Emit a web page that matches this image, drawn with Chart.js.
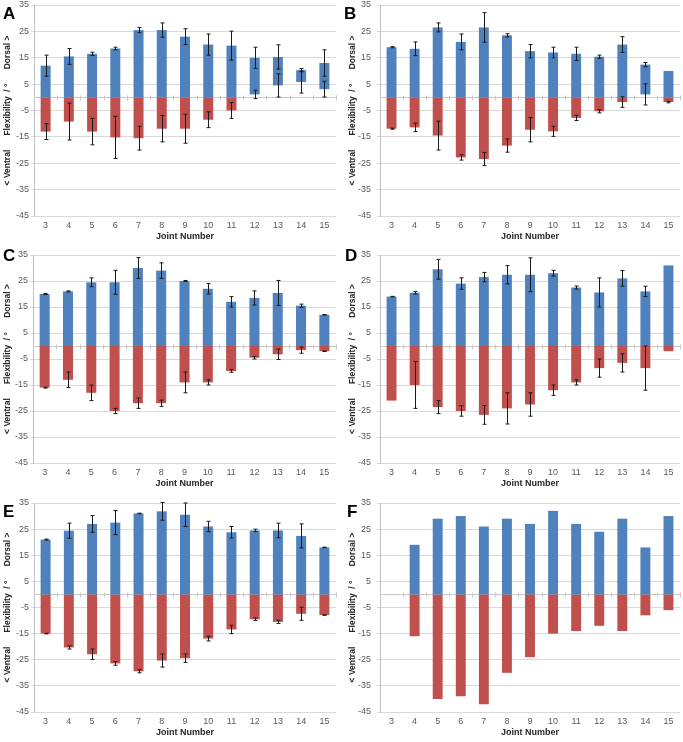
<!DOCTYPE html>
<html>
<head>
<meta charset="utf-8">
<script src="https://cdn.jsdelivr.net/npm/chart.js@4.4.1/dist/chart.umd.min.js"></script>
<style>
body { margin: 0; background: #fff; }
#page { position: relative; width: 683px; height: 742px; overflow: hidden; background: #fff; }
#page canvas { position: absolute; }
.tag { position: absolute; font: bold 17px "Liberation Sans", Arial, sans-serif; line-height: 17px; color: #000; }
</style>
</head>
<body>
<div id="page"></div>
<script>
'use strict';

var joints = ['3', '4', '5', '6', '7', '8', '9', '10', '11', '12', '13', '14', '15'];

// A
var dorsalA = [12, 15.5, 16.5, 18.5, 25.5, 25.5, 23, 20, 19.6, 15, 15.3, 10.3, 13];
var dorsalErrA = [4, 3, 0.6, 0.5, 1, 2.7, 3, 4, 5.5, 4, 4.6, 0.6, 5];
var dorsalLowA = [0, 0, 0, 0, 0, 0, 0, 0, 0, 1.1, 4.5, 5.8, 3.1];
var dorsalLowErrA = [0, 0, 0, 0, 0, 0, 0, 0, 0, 1.6, 4.4, 4.2, 3];
var ventralA = [-13, -9.2, -13, -15.2, -15.5, -11.9, -11.9, -8.5, -5, 0, 0, 0, 0];
var ventralErrA = [3, 7, 5, 8, 4.5, 5, 5.5, 3, 3, 0, 0, 0, 0];

// B
var dorsalB = [19, 18.4, 26.5, 21, 26.5, 23.5, 17.5, 17, 16.5, 15.4, 20, 12.4, 10];
var dorsalErrB = [0.2, 2.6, 1.7, 3, 5.6, 0.6, 2.5, 2, 2.5, 0.6, 3, 0.8, 0];
var dorsalLowB = [0, 0, 0, 0, 0, 0, 0, 0, 0, 0, 0, 1.1, 0];
var dorsalLowErrB = [0, 0, 0, 0, 0, 0, 0, 0, 0, 0, 0, 4, 0];
var ventralB = [-11.9, -11.4, -14.5, -22.8, -23.4, -18.3, -12.3, -12.9, -7.8, -5.3, -1.8, 0, -1.8];
var ventralErrB = [0.2, 1.6, 5.5, 1, 2.5, 2.5, 4.6, 1.9, 1, 0.6, 2, 0, 0.3];

// C
var dorsalC = [20, 21, 24.5, 24.5, 30, 29, 25, 22, 17, 18.5, 20.4, 15.5, 12];
var dorsalErrC = [0.2, 0.2, 1.7, 4.6, 4, 3, 0.2, 2, 2, 2.7, 4.8, 0.6, 0.1];
var ventralC = [-16, -13, -18, -25, -22, -22, -14, -14, -9.6, -4.5, -3.2, -1.6, -2];
var ventralErrC = [0.2, 3, 3, 1, 2, 1.2, 4, 1, 0.5, 0.5, 2, 1.2, 0.1];

// D
var dorsalD = [19, 20.5, 29.5, 24, 26.5, 27.4, 27.4, 28, 22.5, 20.6, 26, 21, 31];
var dorsalErrD = [0.1, 0.5, 3.8, 2.2, 1.8, 3.5, 6.5, 1.1, 0.6, 5.6, 3, 2, 0];
var ventralD = [-21, -15, -23.5, -25, -26.5, -24, -22.5, -17, -14, -8.5, -6.5, -8.5, -2];
var ventralErrD = [0, 9, 2.5, 2, 3.6, 6, 4.5, 2, 1, 3.5, 3.5, 8.5, 0];

// E
var dorsalE = [21, 24.4, 27, 27.5, 31, 31.8, 30.5, 26, 23.8, 24.5, 24.5, 22.4, 18];
var dorsalErrE = [0.2, 2.9, 3.2, 4.6, 0.1, 3.4, 4.5, 2, 2.2, 0.5, 2.8, 4.6, 0.1];
var ventralE = [-15, -20.3, -22.9, -26.4, -29.4, -25.3, -24.4, -16.9, -13.4, -9.5, -10.5, -7.4, -7.9];
var ventralErrE = [0.1, 0.6, 2, 0.7, 0.6, 2.5, 1.6, 0.9, 1.6, 0.5, 0.6, 2.5, 0.1];

// F (no error bars)
var dorsalF = [null, 19, 29, 30, 26, 29, 27, 32, 27, 24, 29, 18, 30];
var ventralF = [null, -16, -40, -39, -42, -30, -24, -15, -14, -12, -14, -8, -6];

var yTicks = {min: -45, max: 35, step: 10};

var GAP = '\u00a0\u00a0\u00a0\u00a0\u00a0\u00a0';
var yTitle = '< Ventral' + GAP + 'Flexibility\u00a0\u00a0/ \u00b0' + GAP + 'Dorsal >';

var panels = [
	{tag: 'A', x: 0, y: 0, w: 341, axisW: 34, tickPad: 2, titlePad: 2.9, padBottom: 8, tagX: 3, tagY: 5,
		dorsal: dorsalA, dorsalErr: dorsalErrA, low: dorsalLowA, lowErr: dorsalLowErrA, ventral: ventralA, ventralErr: ventralErrA},
	{tag: 'B', x: 341, y: 0, w: 342, axisW: 39, tickPad: 6, titlePad: 6.9, padBottom: 8, tagX: 344, tagY: 5,
		dorsal: dorsalB, dorsalErr: dorsalErrB, low: dorsalLowB, lowErr: dorsalLowErrB, ventral: ventralB, ventralErr: ventralErrB},
	{tag: 'C', x: 0, y: 250, w: 341, axisW: 33, tickPad: 2, titlePad: 2.9, padBottom: 11, tagX: 3, tagY: 247,
		dorsal: dorsalC, dorsalErr: dorsalErrC, ventral: ventralC, ventralErr: ventralErrC},
	{tag: 'D', x: 341, y: 250, w: 342, axisW: 39, tickPad: 6, titlePad: 6.9, padBottom: 11, tagX: 345, tagY: 247,
		dorsal: dorsalD, dorsalErr: dorsalErrD, ventral: ventralD, ventralErr: ventralErrD},
	{tag: 'E', x: 0, y: 498, w: 341, axisW: 34, tickPad: 2, titlePad: 2.9, padBottom: 10, tagX: 3, tagY: 503,
		dorsal: dorsalE, dorsalErr: dorsalErrE, ventral: ventralE, ventralErr: ventralErrE},
	{tag: 'F', x: 341, y: 498, w: 342, axisW: 39, tickPad: 6, titlePad: 6.9, padBottom: 10, tagX: 347, tagY: 503,
		dorsal: dorsalF, ventral: ventralF}
];

Chart.defaults.font.family = '"Liberation Sans", Arial, sans-serif';
Chart.defaults.color = '#595959';

// zero axis line with small category ticks, under the bars
var zeroLine = {
	id: 'zeroLine',
	beforeDatasetsDraw: function(chart) {
		var ctx = chart.ctx;
		var x = chart.scales.x;
		var y0 = Math.round(chart.scales.y.getPixelForValue(0)) + 0.5;
		var n = chart.data.labels.length;
		var k, px;
		ctx.save();
		ctx.strokeStyle = '#c8c8c8';
		ctx.lineWidth = 1;
		ctx.beginPath();
		ctx.moveTo(x.left, y0);
		ctx.lineTo(x.right, y0);
		for (k = 0; k <= n; k++) {
			px = Math.round(x.left + k * (x.right - x.left) / n) + 0.5;
			ctx.moveTo(px, y0 - 2);
			ctx.lineTo(px, y0 + 3);
		}
		ctx.stroke();
		ctx.restore();
	}
};

var errorBars = {
	id: 'errorBars',
	afterDatasetsDraw: function(chart) {
		var ctx = chart.ctx;
		var x = chart.scales.x;
		var y = chart.scales.y;
		ctx.save();
		ctx.strokeStyle = '#1a1a1a';
		ctx.lineWidth = 1;
		chart.data.datasets.forEach(function(ds) {
			(ds.errorBars || []).forEach(function(bar) {
				var px = Math.round(x.getPixelForValue(bar.i)) + 0.5;
				var top = y.getPixelForValue(bar.v + bar.e);
				var bot = y.getPixelForValue(bar.v - bar.e);
				ctx.beginPath();
				ctx.moveTo(px, top);
				ctx.lineTo(px, bot);
				ctx.moveTo(px - 2, top);
				ctx.lineTo(px + 2, top);
				ctx.moveTo(px - 2, bot);
				ctx.lineTo(px + 2, bot);
				ctx.stroke();
			});
		});
		ctx.restore();
	}
};

function collectErrors(values, errs) {
	var out = [];
	if (!errs) {
		return out;
	}
	values.forEach(function(v, i) {
		if (v !== null && errs[i] > 0) {
			out.push({i: i, v: v, e: errs[i]});
		}
	});
	return out;
}

function buildChart(p) {
	var page = document.getElementById('page');
	var canvas = document.createElement('canvas');
	var tag = document.createElement('div');
	var low = p.low || p.dorsal.map(function() { return 0; });
	var dorsalData = p.dorsal.map(function(v, i) {
		return v === null ? null : (low[i] ? [low[i], v] : v);
	});
	var dorsalErrors = collectErrors(p.dorsal, p.dorsalErr).concat(
		collectErrors(low.map(function(v) { return v ? v : null; }), p.lowErr));

	canvas.width = p.w;
	canvas.height = 250;
	canvas.style.left = p.x + 'px';
	canvas.style.top = p.y + 'px';
	page.appendChild(canvas);

	tag.className = 'tag';
	tag.textContent = p.tag;
	tag.style.left = p.tagX + 'px';
	tag.style.top = p.tagY + 'px';
	page.appendChild(tag);

	return new Chart(canvas.getContext('2d'), {
		type: 'bar',
		data: {
			labels: joints,
			datasets: [{
				label: 'Dorsal',
				data: dorsalData,
				backgroundColor: '#4f81bd',
				grouped: false,
				barPercentage: 0.43,
				categoryPercentage: 1,
				errorBars: dorsalErrors
			}, {
				label: 'Ventral',
				data: p.ventral,
				backgroundColor: '#c0504d',
				grouped: false,
				barPercentage: 0.43,
				categoryPercentage: 1,
				errorBars: collectErrors(p.ventral, p.ventralErr)
			}]
		},
		options: {
			animation: false,
			responsive: false,
			devicePixelRatio: 1,
			layout: {padding: {left: 0, right: p.w === 341 ? 5 : 3, top: 0, bottom: p.padBottom}},
			plugins: {legend: {display: false}, tooltip: {enabled: false}},
			scales: {
				x: {
					grid: {display: false, drawTicks: false},
					border: {display: false},
					ticks: {font: {size: 9}, padding: 4, maxRotation: 0, autoSkip: false},
					title: {display: true, text: 'Joint Number', color: '#262626',
						font: {size: 9, weight: 'bold'}, padding: {top: 0, bottom: 0}},
					afterFit: function(scale) { scale.height = 26; }
				},
				y: {
					min: yTicks.min,
					max: yTicks.max,
					ticks: {stepSize: yTicks.step, font: {size: 9}, padding: p.tickPad},
					grid: {color: '#d9d9d9', tickLength: 3},
					border: {color: '#bfbfbf'},
					title: {display: true, text: yTitle, color: '#262626',
						font: {size: 8.5, weight: 'bold'}, padding: {top: p.titlePad, bottom: 0}},
					afterFit: function(scale) {
						scale.width = p.axisW;
						scale.paddingTop = 5;
						scale.paddingBottom = 0;
					}
				}
			}
		},
		plugins: [zeroLine, errorBars]
	});
}

panels.forEach(buildChart);
</script>
</body>
</html>
